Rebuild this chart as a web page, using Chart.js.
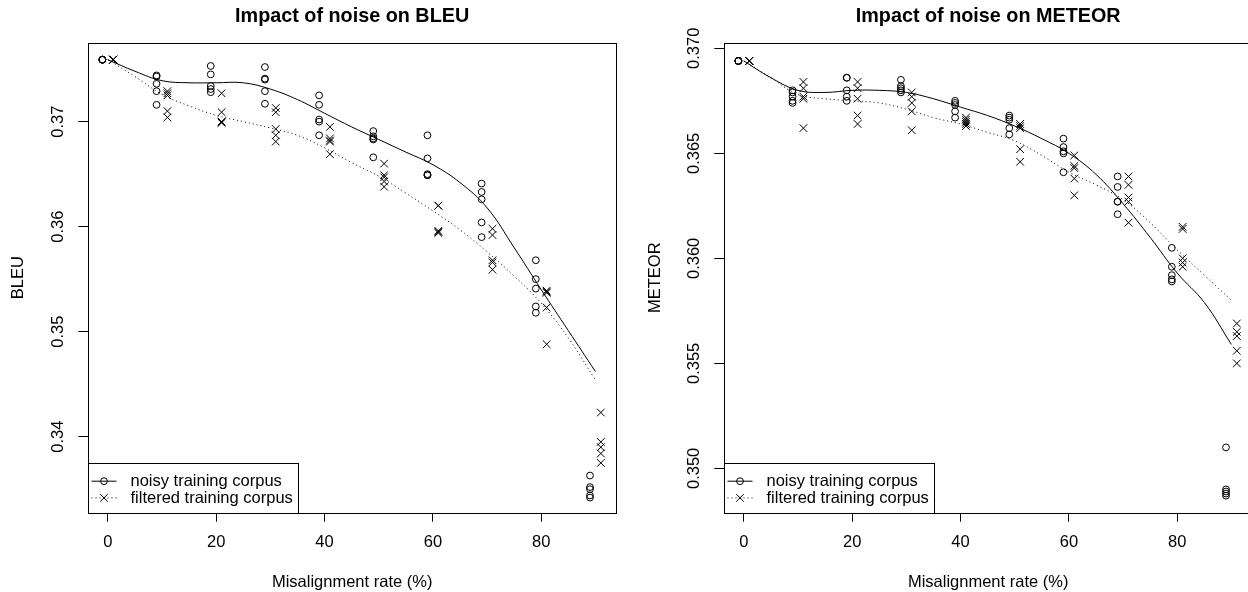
<!DOCTYPE html>
<html>
<head>
<meta charset="utf-8">
<script src="https://cdn.jsdelivr.net/npm/chart.js@4.4.0/dist/chart.umd.min.js"></script>
<style>
    html, body { margin: 0; padding: 0; background: #fff; overflow: hidden; }
    #wrap { position: relative; width: 1248px; height: 592px; overflow: hidden; }
    #bleu { position: absolute; left: 0; top: 0; }
    #meteor { position: absolute; left: 624px; top: 0; }
</style>
</head>
<body>
<div id="wrap">
    <canvas id="bleu" width="624" height="592"></canvas>
    <canvas id="meteor" width="640" height="592"></canvas>
</div>
<script>
// misalignment rates of the runs, the points are drawn 1 unit left (noisy) / right (filtered)
const rates = [0, 10, 20, 30, 40, 50, 60, 70, 80, 90];
const fitRates = [0, 5, 10, 15, 20, 25, 30, 35, 40, 45, 50, 55, 60, 65, 70, 75, 80, 85, 90];
const xTicks = [0, 20, 40, 60, 80];

// BLEU, 5 runs per rate
const bleuNoisy = [
    [0.3759, 0.3759, 0.3759, 0.3759, 0.3759],
    [0.3744, 0.3743, 0.3736, 0.3729, 0.3716],
    [0.3753, 0.3745, 0.3734, 0.3731, 0.3728],
    [0.3752, 0.3741, 0.3740, 0.3729, 0.3717],
    [0.3725, 0.3716, 0.3702, 0.3700, 0.3687],
    [0.3691, 0.3686, 0.3684, 0.3683, 0.3666],
    [0.3687, 0.3665, 0.3650, 0.3649, 0.3649],
    [0.3641, 0.3633, 0.3626, 0.3604, 0.3590],
    [0.3568, 0.3550, 0.3541, 0.3524, 0.3518],
    [0.3363, 0.3352, 0.3350, 0.3344, 0.3342]
];
const bleuFiltered = [
    [0.3759, 0.3759, 0.3759, 0.3759, 0.3759],
    [0.3729, 0.3727, 0.3725, 0.3710, 0.3704],
    [0.3727, 0.3709, 0.3700, 0.3699, 0.3699],
    [0.3713, 0.3709, 0.3693, 0.3687, 0.3681],
    [0.3695, 0.3684, 0.3682, 0.3681, 0.3669],
    [0.3660, 0.3649, 0.3647, 0.3643, 0.3638],
    [0.3620, 0.3620, 0.3596, 0.3595, 0.3594],
    [0.3598, 0.3592, 0.3568, 0.3566, 0.3559],
    [0.3539, 0.3538, 0.3537, 0.3523, 0.3488],
    [0.3423, 0.3395, 0.3390, 0.3384, 0.3375]
];
const bleuNoisyFit = [0.3759, 0.3748, 0.3739, 0.3737, 0.3737, 0.3737, 0.3731, 0.3721, 0.3708, 0.3695,
    0.3683, 0.3671, 0.3659, 0.3642, 0.3618, 0.3580, 0.3540, 0.3501, 0.3462];
const bleuFilteredFit = [0.3759, 0.3743, 0.3726, 0.3715, 0.3706, 0.3700, 0.3694, 0.3687, 0.3675, 0.3661,
    0.3648, 0.3632, 0.3615, 0.3597, 0.3576, 0.3553, 0.3527, 0.3494, 0.3454];
const bleuTicks = [0.34, 0.35, 0.36, 0.37];
const bleuTickLabels = ['0.34', '0.35', '0.36', '0.37'];

// METEOR, 5 runs per rate
const meteorNoisy = [
    [0.3694, 0.3694, 0.3694, 0.3694, 0.3694],
    [0.3680, 0.3679, 0.3677, 0.3675, 0.3674],
    [0.3686, 0.3686, 0.3680, 0.3677, 0.3675],
    [0.3685, 0.3682, 0.3681, 0.3680, 0.3679],
    [0.3675, 0.3674, 0.3673, 0.3670, 0.3667],
    [0.3668, 0.3667, 0.3666, 0.3662, 0.3659],
    [0.3657, 0.3653, 0.3651, 0.3650, 0.3641],
    [0.3639, 0.3634, 0.3627, 0.3627, 0.3621],
    [0.3605, 0.3596, 0.3592, 0.3590, 0.3589],
    [0.3510, 0.3490, 0.3489, 0.3488, 0.3487]
];
const meteorFiltered = [
    [0.3694, 0.3694, 0.3694, 0.3694, 0.3694],
    [0.3684, 0.3681, 0.3677, 0.3676, 0.3662],
    [0.3684, 0.3681, 0.3676, 0.3668, 0.3664],
    [0.3679, 0.3677, 0.3674, 0.3670, 0.3661],
    [0.3667, 0.3666, 0.3665, 0.3664, 0.3663],
    [0.3664, 0.3663, 0.3662, 0.3652, 0.3646],
    [0.3649, 0.3644, 0.3643, 0.3638, 0.3630],
    [0.3639, 0.3635, 0.3629, 0.3627, 0.3617],
    [0.3615, 0.3614, 0.3600, 0.3598, 0.3596],
    [0.3569, 0.3565, 0.3563, 0.3556, 0.3550]
];
const meteorNoisyFit = [0.3694, 0.3686, 0.3680, 0.3679, 0.3680, 0.3680, 0.3679, 0.3676, 0.3672, 0.3668,
    0.3663, 0.3657, 0.3650, 0.3640, 0.3626, 0.3610, 0.3593, 0.3579, 0.3559];
const meteorFilteredFit = [0.3694, 0.3686, 0.3678, 0.3676, 0.3675, 0.3674, 0.3671, 0.3667, 0.3664, 0.3660,
    0.3656, 0.3649, 0.3641, 0.3635, 0.3628, 0.3617, 0.3604, 0.3592, 0.3580];
const meteorTicks = [0.350, 0.355, 0.360, 0.365, 0.370];
const meteorTickLabels = ['0.350', '0.355', '0.360', '0.365', '0.370'];

const legendLabels = ['noisy training corpus', 'filtered training corpus'];

const FONT = '"Liberation Sans", Arial, Helvetica, sans-serif';
const FS = 16.5;

Chart.defaults.font.family = FONT;
Chart.defaults.color = '#000';

function runPoints(runs, offset) {
    const pts = [];
    runs.forEach((vals, i) => {
        vals.forEach(v => pts.push({ x: rates[i] + offset, y: v }));
    });
    return pts;
}

function fitPoints(vals) {
    return vals.map((v, i) => ({ x: fitRates[i], y: v }));
}

// box round the plot region + R style legend in the bottom left corner
const rFrame = {
    id: 'rFrame',
    afterDatasetsDraw(chart) {
        const { ctx, chartArea: a } = chart;
        const l = Math.round(a.left) + 0.5, t = Math.round(a.top) + 0.5;
        const r = Math.round(a.right) + 0.5, b = Math.round(a.bottom) + 0.5;

        ctx.save();
        ctx.strokeStyle = '#000';
        ctx.lineWidth = 1;

        // legend
        const lw = 210, lh = 50;
        const lt = b - lh;
        ctx.fillStyle = '#fff';
        ctx.fillRect(l, lt, lw, lh);
        ctx.strokeRect(l, lt, lw, lh);

        const rows = [
            { y: lt + 17.7, dash: [], style: 'circle', radius: 3.4 },
            { y: lt + 34.4, dash: [1, 3], style: 'crossRot', radius: 5.4 }
        ];
        ctx.font = FS + 'px ' + FONT;
        ctx.textBaseline = 'middle';
        rows.forEach((row, i) => {
            ctx.setLineDash(row.dash);
            ctx.beginPath();
            ctx.moveTo(l + 3, row.y);
            ctx.lineTo(l + 28, row.y);
            ctx.stroke();
            ctx.setLineDash([]);
            ctx.fillStyle = 'rgba(0,0,0,0)';
            Chart.helpers.drawPoint(ctx, { pointStyle: row.style, radius: row.radius, borderWidth: 1, rotation: 0 }, l + 15.5, row.y);
            ctx.fillStyle = '#000';
            ctx.fillText(legendLabels[i], l + 42, row.y + 0.5);
        });

        ctx.strokeRect(l, t, r - l, b - t);
        ctx.restore();
    }
};

function drawPanel(sel, p) {
    const ctx = document.getElementById(sel).getContext('2d');

    return new Chart(ctx, {
        type: 'scatter',
        data: {
            datasets: [
                {
                    data: runPoints(p.noisy, -1),
                    pointStyle: 'circle',
                    pointRadius: 3.4,
                    pointHoverRadius: 3.4,
                    pointBorderWidth: 1,
                    pointBorderColor: '#000',
                    pointBackgroundColor: 'rgba(0,0,0,0)'
                },
                {
                    data: runPoints(p.filtered, 1),
                    pointStyle: 'crossRot',
                    pointRadius: 5.4,
                    pointHoverRadius: 5.4,
                    pointBorderWidth: 1,
                    pointBorderColor: '#000',
                    pointBackgroundColor: 'rgba(0,0,0,0)'
                },
                {
                    data: fitPoints(p.noisyFit),
                    showLine: true,
                    pointRadius: 0,
                    borderColor: '#000',
                    borderWidth: 1,
                    tension: 0.4
                },
                {
                    data: fitPoints(p.filteredFit),
                    showLine: true,
                    pointRadius: 0,
                    borderColor: '#000',
                    borderWidth: 1,
                    borderDash: [1, 3],
                    tension: 0.4
                }
            ]
        },
        options: {
            responsive: false,
            animation: false,
            events: [],
            layout: { padding: { left: 0, right: p.padRight, top: 0, bottom: 0 } },
            plugins: {
                legend: { display: false },
                tooltip: { enabled: false },
                title: {
                    display: true,
                    text: p.title,
                    fullSize: false,
                    color: '#000',
                    font: { family: FONT, size: 19.8, weight: 'bold' },
                    padding: { top: 5.1, bottom: 13.8 }
                }
            },
            scales: {
                x: {
                    type: 'linear',
                    min: -3.6,
                    max: 93.8,
                    afterBuildTicks: s => { s.ticks = xTicks.map(v => ({ value: v })); },
                    afterFit: s => { s.height = 79.3; },
                    border: { display: false },
                    grid: { drawOnChartArea: false, drawTicks: true, tickLength: 9, color: '#000', lineWidth: 1 },
                    ticks: {
                        color: '#000',
                        font: { size: FS },
                        padding: 11,
                        maxRotation: 0,
                        autoSkip: false,
                        callback: v => String(v)
                    },
                    title: {
                        display: true,
                        text: 'Misalignment rate (%)',
                        color: '#000',
                        font: { size: FS },
                        padding: { top: 0, bottom: 0 }
                    }
                },
                y: {
                    type: 'linear',
                    min: p.yMin,
                    max: p.yMax,
                    afterBuildTicks: s => { s.ticks = p.yTicks.map(v => ({ value: v })); },
                    afterFit: s => { s.width = p.yWidth; },
                    border: { display: false },
                    grid: { drawOnChartArea: false, drawTicks: true, tickLength: 10, color: '#000', lineWidth: 1 },
                    ticks: {
                        color: '#000',
                        font: { size: FS },
                        padding: p.yPad,
                        minRotation: 90,
                        maxRotation: 90,
                        crossAlign: 'center',
                        autoSkip: false,
                        callback: (v, i) => p.yTickLabels[i]
                    },
                    title: {
                        display: true,
                        text: p.yTitle,
                        color: '#000',
                        font: { size: FS },
                        padding: { top: p.yTitlePad, bottom: 0 }
                    }
                }
            }
        },
        plugins: [rFrame]
    });
}

drawPanel('bleu', {
    title: 'Impact of noise on BLEU',
    yTitle: 'BLEU',
    noisy: bleuNoisy,
    filtered: bleuFiltered,
    noisyFit: bleuNoisyFit,
    filteredFit: bleuFilteredFit,
    yTicks: bleuTicks,
    yTickLabels: bleuTickLabels,
    yMin: 0.33276,
    yMax: 0.37752,
    yWidth: 88.3,
    yPad: 3.8,
    yTitlePad: 8.1,
    padRight: 8
});

drawPanel('meteor', {
    title: 'Impact of noise on METEOR',
    yTitle: 'METEOR',
    noisy: meteorNoisy,
    filtered: meteorFiltered,
    noisyFit: meteorNoisyFit,
    filteredFit: meteorFilteredFit,
    yTicks: meteorTicks,
    yTickLabels: meteorTickLabels,
    yMin: 0.34789,
    yMax: 0.37027,
    yWidth: 100.3,
    yPad: -1,
    yTitlePad: 21.1,
    padRight: 12
});
</script>
</body>
</html>
